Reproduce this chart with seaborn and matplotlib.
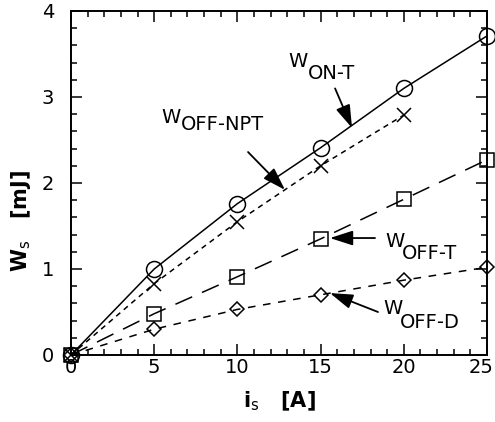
import pandas as pd
import matplotlib.pyplot as plt
import seaborn as sns
from matplotlib.ticker import MultipleLocator
from matplotlib.transforms import ScaledTranslation

# values
current = [0, 5, 10, 15, 20, 25]
w_on_t = [0.0, 1.00, 1.76, 2.41, 3.10, 3.71]
current_npt = [0, 5, 10, 15, 20]
w_off_npt = [0.0, 0.83, 1.55, 2.20, 2.79]
w_off_t = [0.0, 0.48, 0.91, 1.35, 1.81, 2.27]
w_off_d = [0.0, 0.30, 0.53, 0.70, 0.87, 1.02]

sns.set_style('ticks', {'axes.edgecolor': 'black', 'text.color': 'black',
                        'axes.labelcolor': 'black', 'xtick.color': 'black',
                        'ytick.color': 'black'})
plt.rcParams['font.family'] = ['DejaVu Sans']
plt.rcParams['mathtext.fontset'] = 'dejavusans'

fig = plt.figure(figsize=(4.95, 4.22), dpi=100)
ax = fig.add_axes([71 / 495, 1 - 355 / 422, 416 / 495, 344 / 422])

series = [
    (current, w_on_t, 'o', None, 11.5),
    (current_npt, w_off_npt, 'x', (3.5, 3), 10),
    (current, w_off_t, 's', (12, 7), 10),
    (current, w_off_d, 'D', (5, 5), 7),
]
for xs, ys, mk, dash, ms in series:
    df = pd.DataFrame({'i': xs, 'w': ys})
    sns.lineplot(data=df, x='i', y='w', ax=ax, color='black', lw=1.1,
                 marker=mk, markersize=ms, markerfacecolor='none',
                 markeredgecolor='black', markeredgewidth=1.1, clip_on=False)
    if dash is not None:
        ax.lines[-1].set_dashes(dash)

ax.set_xlim(0, 25)
ax.set_ylim(0, 4)
ax.xaxis.set_major_locator(MultipleLocator(5))
ax.xaxis.set_minor_locator(MultipleLocator(1))
ax.yaxis.set_major_locator(MultipleLocator(1))
ax.yaxis.set_minor_locator(MultipleLocator(0.2))
ax.tick_params(which='both', direction='in', top=True, right=True, width=1.1)
ax.tick_params(which='major', length=8, labelsize=14)
ax.tick_params(which='minor', length=4)
ax.tick_params(axis='x', pad=2)
ax.tick_params(axis='y', pad=12)
for s in ax.spines.values():
    s.set_linewidth(1.4)

ax.set_xlabel(r'i$_\mathrm{s}$   [A]', fontsize=15, fontweight='bold', labelpad=9)
ax.set_ylabel(r'W$_\mathrm{s}$   [mJ]', fontsize=15, fontweight='bold')
ax.yaxis.set_label_coords(-38 / 416, 0.39)

# nudge the "25" label in so it stays inside the picture
fig.canvas.draw()
for lbl in ax.get_xticklabels():
    if lbl.get_text() == '25':
        lbl.set_transform(lbl.get_transform() + ScaledTranslation(-0.06, 0, fig.dpi_scale_trans))

arrow = dict(arrowstyle='-|>,head_length=1.4,head_width=0.45', color='black',
             lw=1.3, shrinkA=0, shrinkB=0)
ax.annotate('', xy=(16.89, 2.64), xytext=(15.87, 3.10), arrowprops=arrow)
ax.annotate('', xy=(12.86, 1.92), xytext=(10.64, 2.36), arrowprops=arrow)
ax.annotate('', xy=(15.56, 1.36), xytext=(18.27, 1.36), arrowprops=arrow)
ax.annotate('', xy=(15.56, 0.72), xytext=(18.45, 0.50), arrowprops=arrow)

# labels: big W plus a lowered, nearly full-size subscript
labels = [
    (13.04, 3.35, 'ON-T', 14, -9),
    (5.41, 2.70, 'OFF-NPT', 14, -5),
    (18.87, 1.26, 'OFF-T', 12, -9),
    (18.75, 0.48, 'OFF-D', 12, -10),
]
for x, y, sub, dx, dy in labels:
    ax.text(x, y, 'W', fontsize=14, ha='left', va='baseline')
    ax.annotate(sub, xy=(x, y), xytext=(dx, dy), textcoords='offset points',
                fontsize=14, ha='left', va='baseline')

fig.savefig('out.png', dpi=100)
